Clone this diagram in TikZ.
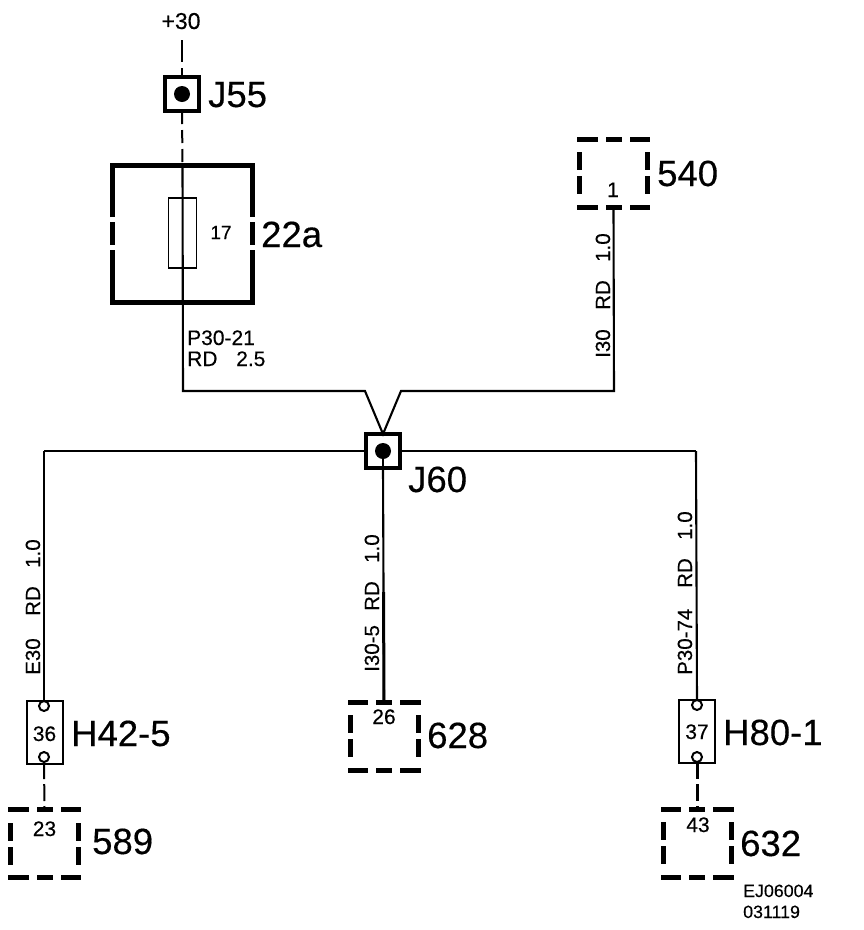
\documentclass[tikz,border=0pt]{standalone}
\usepackage{fontspec}
\usetikzlibrary{calc}
\setmainfont[FakeBold=0.35]{Liberation Sans}
\newcommand{\fs}[1]{\fontsize{#1}{#1}\selectfont}
\tikzset{
  wire/.style={draw=black,line width=2.1pt},
  dashbox/.style={draw=black,rectangle,line width=5pt,minimum size=68pt,inner sep=0pt,outer sep=0pt,line cap=rect,dash pattern=on 15.5pt off 13pt on 11pt off 13pt on 15.5pt},
  junction/.style={draw=black,rectangle,line width=3.6pt,minimum size=34pt,inner sep=0pt,outer sep=0pt},
  jdot/.style={fill=black,circle,minimum size=16pt,inner sep=0pt,outer sep=0pt},
  pinbox/.style={draw=black,rectangle,line width=2pt,minimum width=36pt,minimum height=63pt,inner sep=0pt,outer sep=0pt},
  pin/.style={draw=black,fill=white,circle,line width=2pt,minimum size=10pt,inner sep=0pt,outer sep=0pt},
  big/.style={font=\fs{36.5},inner sep=0pt,anchor=base west},
  small/.style={font=\fs{21},inner sep=0pt,anchor=base},
  wlabel/.style={font=\fs{20.5},inner sep=0pt,anchor=base west,rotate=90},
  tlabel/.style={font=\fs{21},inner sep=0pt,anchor=base west},
  code/.style={font=\fs{17.8},inner sep=0pt,anchor=base west},
}
\begin{document}
\begin{tikzpicture}[x=1pt,y=-1pt]
\useasboundingbox (0,0) rectangle (864,930);
% junctions
\node[junction] (J55) at (182,94) {};
\node[jdot] (J55d) at (182,94) {};
\node[junction] (J60) at (383,451) {};
\node[jdot] (J60d) at (383,451) {};
% fuse
\node[rectangle,minimum width=140pt,minimum height=137pt,inner sep=0pt,outer sep=0pt] (F22) at (182.5,234) {};
\draw[line width=5pt,line join=miter] (112.5,217) -- (112.5,165.5) -- (252.5,165.5) -- (252.5,217);
\draw[line width=5pt,line join=miter] (112.5,250) -- (112.5,302.5) -- (252.5,302.5) -- (252.5,250);
\draw[line width=5pt] (112.5,222) -- (112.5,245);
\draw[line width=5pt] (252.5,222) -- (252.5,245);
\node[draw=black,rectangle,line width=1.7pt,minimum width=28pt,minimum height=70pt,inner sep=0pt,outer sep=0pt] (Fuse) at (182.5,233) {};
% dashed boxes
\node[dashbox] (B540) at (613.5,173) {};
\node[dashbox] (B628) at (384,736) {};
\node[dashbox] (B589) at (44.5,843.5) {};
\node[dashbox] (B632) at (697,843) {};
% pin boxes
\node[pinbox] (H42) at (44.5,732) {};
\node[pinbox] (H80) at (696.5,731) {};
\node[pin] (H42a) at (44,706) {};
\node[pin] (H42b) at (44,757) {};
\node[pin] (H80a) at (697,705) {};
\node[pin] (H80b) at (697,757) {};
% coordinates
\coordinate (top) at (182,40);
\coordinate (bendL) at (183,391);
\coordinate (bendL2) at (365,391);
\coordinate (bendR2) at (401,391);
\coordinate (bendR) at (614,391);
\coordinate (vee) at (383,434);
\coordinate (busL) at (44,451);
\coordinate (busR) at (696,451);
% connectors
\draw[draw=black,line width=2pt,dash pattern=on 22pt off 6pt] (top) -- (J55.north);
\draw[draw=black,line width=2pt,dash pattern=on 13pt off 6pt] (J55.south) -- (F22.north);
\draw[wire] (F22.north) -- (bendL) -- (bendL2) -- (vee) -- (bendR2) -- (bendR) -- (B540.south);
\draw[draw=black,line width=2.6pt] (busL) -- (J60.west);
\draw[draw=black,line width=2.6pt] (J60.east) -- (busR);
\draw[wire] (busL) -- (H42a.north);
\draw[wire] (busR) -- (H80a.north);
\draw[wire] (J60.south) -- (B628.north);
\draw[draw=black,line width=3pt] ($(J60.south)!0.53!(B628.north)$) -- (B628.north);
\draw[draw=black,line width=2pt,dash pattern=on 17pt off 5pt] (H42b.south) -- (B589.north);
\draw[draw=black,line width=3pt,dash pattern=on 17pt off 5pt] (H80b.south) -- (B632.north);
\draw[wire] (J55.center) -- (J55d.center);
\draw[wire] (J60.center) -- (J60.south);
% labels
\node[font=\fs{23},inner sep=0pt,anchor=base] (Lp30) at (181,29) {+30};
\node[big] (LJ55) at (208,107) {J55};
\node[big] (L22a) at (261,247) {22a};
\node[font=\fs{19},inner sep=0pt,anchor=base] (L17) at (221,239) {17};
\node[big] (L540) at (657,186) {540};
\node[small] (L1) at (613,197) {1};
\node[big] (LJ60) at (408,492) {J60};
\node[big] (LH42) at (71,746) {H42-5};
\node[big] (L628) at (427,748) {628};
\node[big] (LH80) at (723,745) {H80-1};
\node[big] (L589) at (92,854) {589};
\node[big] (L632) at (740,856) {632};
\node[small] (L36) at (44.5,741) {36};
\node[small] (L37) at (697,739) {37};
\node[small] (L26) at (384,724) {26};
\node[small] (L23) at (44.5,836) {23};
\node[small] (L43) at (698,832) {43};
\node[tlabel] (Lw1) at (187,345) {P30-21};
\node[tlabel] (Lw2) at (187,366) {RD};
\node[tlabel] (Lw3) at (236,366) {2.5};
\node[wlabel] (E1) at (40,675) {E30};
\node[wlabel] (E2) at (40,616) {RD};
\node[wlabel] (E3) at (40,568) {1.0};
\node[wlabel] (C1) at (379,672) {I30-5};
\node[wlabel] (C2) at (379,611) {RD};
\node[wlabel] (C3) at (379,563) {1.0};
\node[wlabel] (P1) at (692,675) {P30-74};
\node[wlabel] (P2) at (692,588) {RD};
\node[wlabel] (P3) at (692,540) {1.0};
\node[wlabel] (I1) at (610,358) {I30};
\node[wlabel] (I2) at (610,310) {RD};
\node[wlabel] (I3) at (610,262) {1.0};
\node[code] (Lc1) at (743,897) {EJ06004};
\node[code] (Lc2) at (743,918) {031119};
\end{tikzpicture}
\end{document}
